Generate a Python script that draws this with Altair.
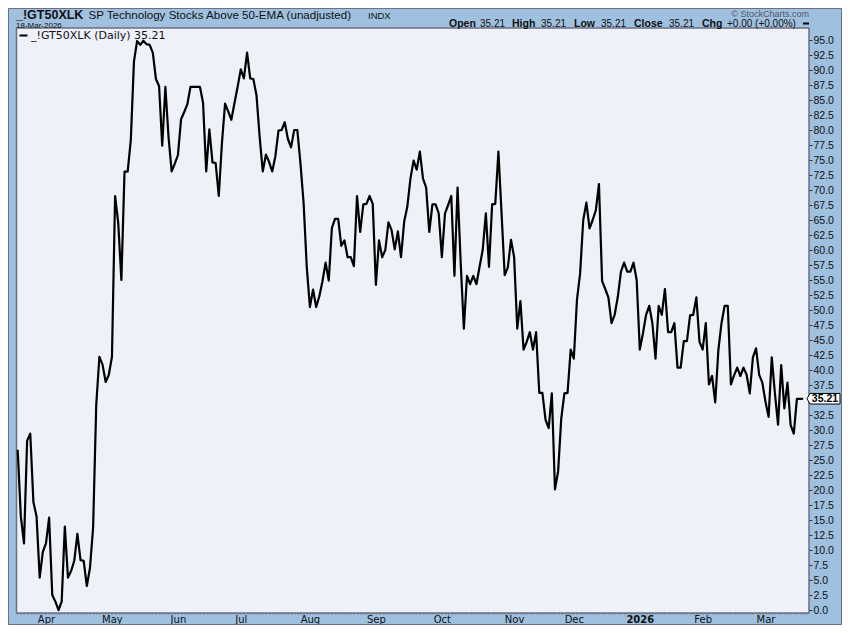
import pandas as pd
import altair as alt

# daily close
close = [
    26.7, 15.6, 11.1, 28.2, 29.4, 18.0, 15.6, 5.4, 9.7, 11.1, 15.4, 2.5, 1.4, 0.0, 1.4, 13.9,
    5.4, 6.5, 8.2, 12.7, 8.3, 8.2, 4.0, 7.0, 13.7, 34.2, 42.2, 40.9, 38.0, 39.2, 42.2, 69.0,
    64.5, 55.0, 73.05, 73.05, 78.3, 91.4, 94.8, 94.2, 94.9, 94.3, 94.2, 92.9, 88.5, 87.3, 77.4,
    87.2, 78.9, 73.1, 74.4, 75.8, 81.8, 83.0, 84.3, 87.2, 87.2, 87.2, 87.2, 84.5, 73.1, 80.1,
    74.6, 74.5, 69.0, 77.8, 84.4, 83.1, 81.7, 84.5, 87.2, 90.1, 88.6, 92.9, 88.6, 88.5, 85.8,
    78.9, 73.1, 75.9, 74.7, 73.1, 75.6, 79.9, 80.0, 81.3, 78.5, 77.1, 80.0, 80.0, 74.4, 67.8,
    57.2, 50.5, 53.4, 50.5, 52.3, 54.8, 57.9, 54.9, 63.7, 65.2, 65.2, 60.7, 61.6, 58.8, 58.8,
    57.3, 69.0, 63.0, 67.6, 67.7, 69.0, 67.7, 54.2, 61.6, 58.8, 60.0, 64.6, 63.3, 60.1, 63.1,
    58.8, 64.7, 67.2, 71.9, 74.9, 73.4, 76.4, 71.9, 70.4, 63.0, 67.6, 67.6, 66.1, 58.8, 66.1,
    67.5, 69.0, 55.7, 70.4, 57.8, 46.9, 55.7, 54.3, 55.7, 54.3, 57.2, 60.0, 66.1, 57.2, 67.6,
    67.7, 76.4, 66.1, 55.8, 57.1, 61.7, 58.8, 46.9, 51.5, 43.4, 44.7, 46.3, 43.4, 46.3, 36.2,
    36.2, 31.7, 30.3, 36.1, 20.1, 23.1, 31.9, 36.1, 36.2, 43.4, 41.9, 51.7, 56.1, 65.0, 67.9,
    63.6, 65.0, 66.6, 71.0, 54.8, 53.5, 52.1, 47.8, 49.2, 52.2, 56.4, 57.9, 56.4, 56.4, 57.9,
    55.0, 43.4, 46.1, 49.2, 50.7, 47.8, 41.9, 50.7, 49.2, 53.5, 46.3, 46.3, 47.8, 40.4, 40.4,
    44.8, 44.8, 49.1, 49.2, 52.1, 44.7, 43.4, 47.8, 37.6, 39.0, 34.6, 43.3, 47.8, 50.7, 50.7,
    37.6, 39.1, 40.4, 39.0, 40.4, 39.2, 36.1, 42.1, 43.6, 39.2, 37.9, 34.7, 32.2, 42.1, 36.1,
    30.9, 40.8, 33.6, 37.9, 30.8, 29.4, 35.2, 35.2, 35.21,
]
month_labels = ["Apr", "May", "Jun", "Jul", "Aug", "Sep", "Oct", "Nov", "Dec", "2026", "Feb", "Mar"]
month_index = [9, 30, 51, 71, 93, 114, 135, 158, 177, 198, 218, 238]
# 35.0 sits under the price flag
price_ticks = [i * 2.5 for i in range(39) if i != 14]

BLUE = "#9fc0df"
PLOT = "#eff1f9"
EDGE = "#6e6e85"
FONT = "Liberation Sans"
MONO = "DejaVu Sans"

LEFT, TOP = 16.5, 28

df = pd.DataFrame({"day": range(len(close)), "close": close})
last = df.tail(1)


def label(text, x, y, size=11, weight="normal", color="#111111", font=FONT, align="left"):
    # x and y are pixels on the page, plot area starts at LEFT, TOP
    return alt.Chart(last).mark_text(
        text=text, fontSize=size, fontWeight=weight, color=color, font=font,
        align=align, baseline="alphabetic", clip=False
    ).encode(x=alt.value(x - LEFT), y=alt.value(y - TOP))


month_js = "{" + ",".join(f"'{i}':'{m}'" for i, m in zip(month_index, month_labels)) + "}"

x = alt.X(
    "day:Q", title=None,
    scale=alt.Scale(domain=[-0.38, 251.85], nice=False, zero=False),
    axis=alt.Axis(
        values=list(range(len(close) + 1)), grid=False, domain=False,
        tickSize=1, tickColor="#555566", labelOverlap=False, labelFlush=False, labelPadding=0,
        labelExpr=f"{month_js}[''+datum.value] || ''",
        labelFont=MONO, labelFontSize=10, labelColor="#111111",
        labelFontWeight=alt.expr("datum.value == 198 ? 'bold' : 'normal'"),
    ),
)
y = alt.Y(
    "close:Q", title=None,
    scale=alt.Scale(domain=[-0.5, 97], nice=False, zero=False),
    axis=alt.Axis(
        orient="right", values=price_ticks, format=".1f", grid=False, domain=False,
        tickSize=3, tickColor="#333344", labelPadding=1, labelOverlap=False,
        labelFlush=False, labelFont=FONT, labelFontSize=10.5, labelColor="#111111",
    ),
)

line = alt.Chart(df).mark_line(color="#000000", strokeWidth=2.2, strokeJoin="round").encode(x=x, y=y)

# price flag on the right edge
flag = alt.Chart(last).mark_point(
    shape="M-1,0L-0.82,-0.32L1,-0.32L1,0.32L-0.82,0.32Z",
    size=1089, filled=True, fill="#ffffff", stroke="#000000", strokeWidth=1, opacity=1, clip=False
).encode(x=alt.value(823.5 - LEFT), y=y)
flag_text = alt.Chart(last).mark_text(
    fontSize=10.5, fontWeight="bold", font=FONT, color="#000000", clip=False
).encode(x=alt.value(825 - LEFT), y=y, text=alt.Text("close:Q", format=".2f"))

# outer frame of the picture
frame = alt.Chart(last).mark_rect(fill=None, stroke=EDGE, strokeWidth=1, clip=False).encode(
    x=alt.value(8.5 - LEFT), x2=alt.value(841.5 - LEFT), y=alt.value(8.5 - TOP), y2=alt.value(624.5 - TOP)
)

legend_key = alt.Chart(last).mark_rule(color="#000000", strokeWidth=2).encode(
    x=alt.value(19.5 - LEFT), x2=alt.value(27.5 - LEFT), y=alt.value(35.5 - TOP)
)
chg_dash = alt.Chart(last).mark_rule(color="#000000", strokeWidth=2, clip=False).encode(
    x=alt.value(803 - LEFT), x2=alt.value(809 - LEFT), y=alt.value(23.5 - TOP)
)

texts = [
    label("_!GT50XLK", 16, 18.5, size=12.5, weight="bold"),
    label("SP Technology Stocks Above 50-EMA (unadjusted)", 88.5, 19, size=11.6),
    label("INDX", 368, 19, size=9.5),
    label("18-Mar-2026", 16, 27.5, size=8),
    label("© StockCharts.com", 809, 17, size=9, color="#555566", align="right"),
    label("Open", 449, 27, size=10.5, weight="bold"),
    label("35.21", 480, 27, size=10),
    label("High", 512, 27, size=10.5, weight="bold"),
    label("35.21", 541, 27, size=10),
    label("Low", 574, 27, size=10.5, weight="bold"),
    label("35.21", 601, 27, size=10),
    label("Close", 634, 27, size=10.5, weight="bold"),
    label("35.21", 669, 27, size=10),
    label("Chg", 702, 27, size=10.5, weight="bold"),
    label("+0.00 (+0.00%)", 727, 27, size=10),
    label("_!GT50XLK (Daily) 35.21", 31, 39, size=11, font=MONO),
]

chart = alt.layer(line, frame, legend_key, chg_dash, *texts, flag, flag_text).properties(
    width=792.5,
    height=585,
    padding={"left": LEFT - 8, "top": TOP - 8, "right": 33, "bottom": 12},
    autosize=alt.AutoSizeParams(type="none"),
    background=BLUE,
).configure_view(fill=PLOT, stroke=EDGE, strokeWidth=1.5)

chart.save("out.html", embed_options={"renderer": "svg", "actions": False})
